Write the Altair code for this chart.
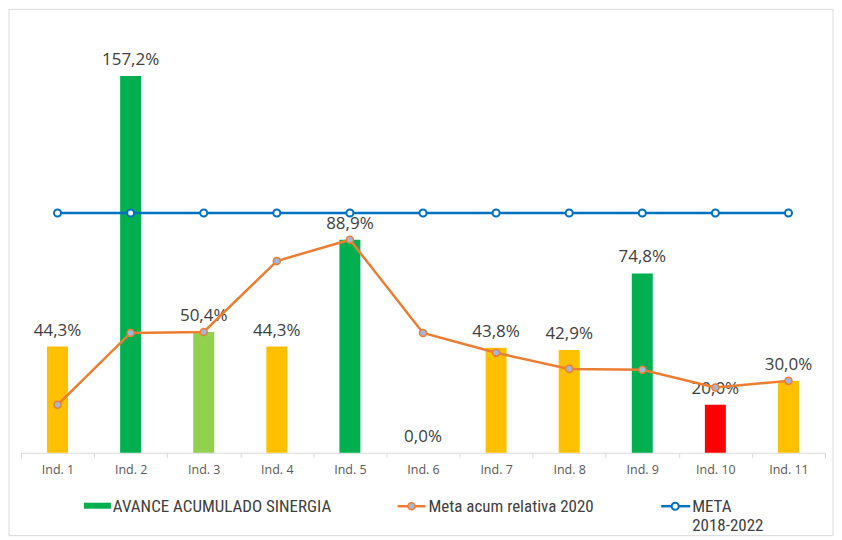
import altair as alt
import pandas as pd

categories = ["Ind. 1", "Ind. 2", "Ind. 3", "Ind. 4", "Ind. 5", "Ind. 6",
              "Ind. 7", "Ind. 8", "Ind. 9", "Ind. 10", "Ind. 11"]
avance = [44.3, 157.2, 50.4, 44.3, 88.9, 0.0, 43.8, 42.9, 74.8, 20.0, 30.0]
meta_rel = [20.0, 50.0, 50.4, 80.0, 88.9, 50.0, 41.7, 35.0, 34.6, 27.2, 30.0]
meta = [100.0] * 11
bar_colors = ["#FFC000", "#00B050", "#92D050", "#FFC000", "#00B050", "#FFC000",
              "#FFC000", "#FFC000", "#00B050", "#FF0000", "#FFC000"]
legend_labels = ["AVANCE ACUMULADO SINERGIA", "Meta acum relativa 2020", "META", "2018-2022"]

df = pd.DataFrame({
    "cat": categories,
    "avance": avance,
    "meta_rel": meta_rel,
    "meta": meta,
    "color": bar_colors,
})
df["label"] = df["avance"].map(lambda v: f"{v:.1f}".replace(".", ",") + "%")

NARROW = "Liberation Sans Narrow, Roboto Condensed, Arial Narrow, Liberation Sans, sans-serif"
LABEL_FONT = "Open Sans, Noto Sans, sans-serif"

yscale = alt.Scale(domain=[0, 180], nice=False, zero=True)
xenc = alt.X("cat:N", sort=categories, title=None,
             scale=alt.Scale(paddingInner=0, paddingOuter=0),
             axis=alt.Axis(labelAngle=0, tickBand="extent", domainColor="#D9D9D9",
                           tickColor="#D9D9D9", tickSize=5, labelColor="#595959",
                           labelFont=LABEL_FONT, labelFontSize=12.5, labelPadding=6,
                           grid=False))

base = alt.Chart(df)

bars = base.mark_bar(size=21).encode(
    x=xenc,
    y=alt.Y("avance:Q", scale=yscale, axis=None),
    color=alt.Color("color:N", scale=None),
)

labels = base.mark_text(baseline="bottom", dy=-7, font=LABEL_FONT, fontSize=17,
                        color="#404040").encode(
    x=alt.X("cat:N", sort=categories),
    y=alt.Y("avance:Q", scale=yscale),
    text="label:N",
)

orange_line = base.mark_line(color="#ED7D31", strokeWidth=2.5).encode(
    x=alt.X("cat:N", sort=categories),
    y=alt.Y("meta_rel:Q", scale=yscale),
)
orange_pts = base.mark_point(shape="circle", filled=True, fill="#A5B6D8", stroke="#ED7D31",
                             strokeWidth=1.5, size=50, opacity=1).encode(
    x=alt.X("cat:N", sort=categories),
    y=alt.Y("meta_rel:Q", scale=yscale),
)

blue_line = base.mark_line(color="#0070C0", strokeWidth=2.5).encode(
    x=alt.X("cat:N", sort=categories),
    y=alt.Y("meta:Q", scale=yscale),
)
blue_pts = base.mark_point(shape="circle", filled=True, fill="white", stroke="#0070C0",
                           strokeWidth=2, size=50, opacity=1).encode(
    x=alt.X("cat:N", sort=categories),
    y=alt.Y("meta:Q", scale=yscale),
)

one = pd.DataFrame({"k": [0]})
lg = alt.Chart(one)

leg_sq = lg.mark_rect(color="#00B050").encode(
    x=alt.value(63), x2=alt.value(90), y=alt.value(482), y2=alt.value(488))
leg_t1 = lg.mark_text(align="left", baseline="middle", font=NARROW, fontSize=17,
                      color="#404040", text=legend_labels[0]).encode(
    x=alt.value(92), y=alt.value(486))

leg_or = lg.mark_rule(color="#ED7D31", strokeWidth=2.5).encode(
    x=alt.value(377), x2=alt.value(405), y=alt.value(485.5))
leg_orp = lg.mark_point(shape="circle", filled=True, fill="#A5B6D8", stroke="#ED7D31",
                        strokeWidth=1.5, size=50, opacity=1).encode(
    x=alt.value(391), y=alt.value(485.5))
leg_t2 = lg.mark_text(align="left", baseline="middle", font=NARROW, fontSize=17,
                      color="#404040", text=legend_labels[1]).encode(
    x=alt.value(408), y=alt.value(486))

leg_bl = lg.mark_rule(color="#0070C0", strokeWidth=2.5).encode(
    x=alt.value(641), x2=alt.value(670), y=alt.value(485.5))
leg_blp = lg.mark_point(shape="circle", filled=True, fill="white", stroke="#0070C0",
                        strokeWidth=2, size=50, opacity=1).encode(
    x=alt.value(655), y=alt.value(485.5))
leg_t3 = lg.mark_text(align="left", baseline="middle", font=NARROW, fontSize=17,
                      color="#404040", text=legend_labels[2]).encode(
    x=alt.value(672), y=alt.value(486))
leg_t4 = lg.mark_text(align="left", baseline="middle", font=NARROW, fontSize=17,
                      color="#404040", text=legend_labels[3]).encode(
    x=alt.value(672), y=alt.value(505))

border = lg.mark_rect(fill="transparent", stroke="#D9D9D9", strokeWidth=1).encode(
    x=alt.value(-12), x2=alt.value(813), y=alt.value(-12), y2=alt.value(515))

chart = alt.layer(
    border, bars, labels, orange_line, orange_pts, blue_line, blue_pts,
    leg_sq, leg_t1, leg_or, leg_orp, leg_t2, leg_bl, leg_blp, leg_t3, leg_t4,
).properties(
    width=805, height=432, padding=0, background="white"
).configure_view(stroke="transparent")

chart.save("out.html", embed_options={"renderer": "svg", "actions": False})
